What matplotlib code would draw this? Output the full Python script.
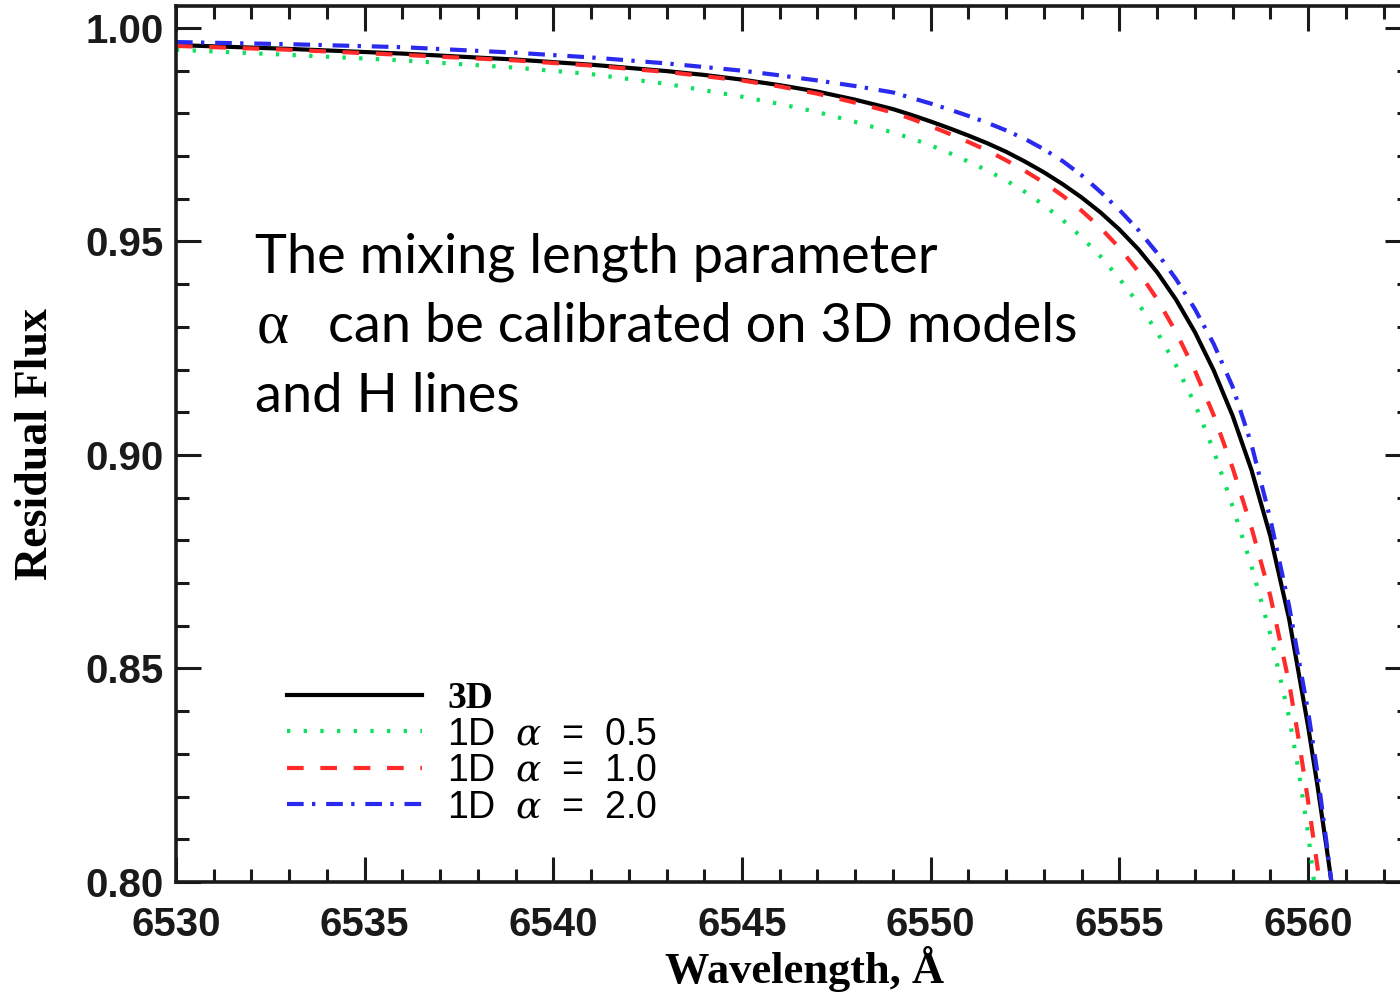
import matplotlib
matplotlib.use('Agg')
import matplotlib.pyplot as plt
from matplotlib.ticker import MultipleLocator, FormatStrFormatter

# Residual flux vs wavelength

wl_3d = [6530, 6533, 6536, 6539, 6541, 6543, 6544, 6545, 6546, 6547, 6548, 6549,
         6549.5, 6550, 6550.5, 6551, 6551.5, 6552, 6552.5, 6553, 6553.5, 6554, 6554.5,
         6555, 6555.5, 6556, 6556.5, 6557, 6557.5, 6558, 6558.5, 6559, 6559.5, 6560,
         6560.25, 6560.5, 6560.7]
flux_3d = [0.9960, 0.9951, 0.9940, 0.9926, 0.9914, 0.9899, 0.9890, 0.9879, 0.9866, 0.9851, 0.9832, 0.9810,
           0.9796, 0.9781, 0.9765, 0.9748, 0.9730, 0.9710, 0.9687, 0.9662, 0.9634, 0.9603, 0.9568,
           0.9528, 0.9482, 0.9428, 0.9364, 0.9288, 0.9198, 0.9092, 0.8965, 0.8810, 0.8615, 0.8365,
           0.8225, 0.8075, 0.7950]

wl_a05 = [6530, 6533, 6536, 6539, 6541, 6543, 6545, 6546, 6547, 6548, 6549,
          6549.5, 6550, 6550.5, 6551, 6551.5, 6552, 6552.5, 6553, 6553.5, 6554, 6554.5,
          6555, 6555.5, 6556, 6556.5, 6557, 6557.5, 6558, 6558.5, 6559, 6559.5,
          6559.75, 6560, 6560.2]
flux_a05 = [0.9949, 0.9937, 0.9924, 0.9907, 0.9892, 0.9869, 0.9839, 0.9822, 0.9803, 0.9780, 0.9755,
            0.9741, 0.9725, 0.9707, 0.9687, 0.9666, 0.9643, 0.9616, 0.9585, 0.9550, 0.9510, 0.9465,
            0.9413, 0.9355, 0.9288, 0.9210, 0.9120, 0.9010, 0.8880, 0.8740, 0.8580, 0.8385,
            0.8260, 0.8115, 0.7970]

wl_a10 = [6530, 6533, 6536, 6539, 6541, 6543, 6545, 6546, 6547, 6548, 6549,
          6549.5, 6550, 6550.5, 6551, 6551.5, 6552, 6552.5, 6553, 6553.5, 6554, 6554.5,
          6555, 6555.5, 6556, 6556.5, 6557, 6557.5, 6558, 6558.5, 6559, 6559.5,
          6559.75, 6560, 6560.25, 6560.4]
flux_a10 = [0.9958, 0.9949, 0.9937, 0.9924, 0.9912, 0.9897, 0.9877, 0.9863, 0.9846, 0.9825, 0.9802,
            0.9787, 0.9770, 0.9752, 0.9733, 0.9713, 0.9690, 0.9665, 0.9638, 0.9607, 0.9572, 0.9532,
            0.9485, 0.9430, 0.9365, 0.9288, 0.9198, 0.9093, 0.8970, 0.8830, 0.8670, 0.8465,
            0.8335, 0.8190, 0.8035, 0.7940]

wl_a20 = [6530, 6533, 6536, 6539, 6541, 6543, 6545, 6546, 6547, 6548, 6549,
          6549.5, 6550, 6550.5, 6551, 6551.5, 6552, 6552.5, 6553, 6553.5, 6554, 6554.5,
          6555, 6555.5, 6556, 6556.5, 6557, 6557.5, 6558, 6558.5, 6559, 6559.5, 6560,
          6560.25, 6560.5, 6560.7]
flux_a20 = [0.9967, 0.9962, 0.9955, 0.9942, 0.9931, 0.9917, 0.9900, 0.9889, 0.9877, 0.9864, 0.9849,
            0.9836, 0.9823, 0.9809, 0.9794, 0.9778, 0.9760, 0.9740, 0.9716, 0.9688, 0.9655, 0.9616,
            0.9574, 0.9527, 0.9473, 0.9412, 0.9342, 0.9260, 0.9160, 0.9025, 0.8850, 0.8645, 0.8400,
            0.8255, 0.8085, 0.7940]

labels = ['3D', '1D  $\\alpha$  =  0.5', '1D  $\\alpha$  =  1.0', '1D  $\\alpha$  =  2.0']

plt.rcParams['mathtext.fontset'] = 'dejavuserif'

fig = plt.figure(figsize=(14, 9.96), dpi=100)
ax = fig.add_axes([0.1257, 0.1145, 0.8814, 0.8795])

ax.plot(wl_3d, flux_3d, color='black', lw=3.0, label=labels[0])
ax.plot(wl_a05, flux_a05, color='#10e060', lw=3.0, linestyle=(0, (0.8, 3.2)), label=labels[1])
ax.plot(wl_a10, flux_a10, color='#ff2a2a', lw=3.0, linestyle=(0, (4, 4)), label=labels[2])
ax.plot(wl_a20, flux_a20, color='#2a2aee', lw=3.0, linestyle=(0, (4, 2, 0.8, 2.6)), label=labels[3])

ax.set_xlim(6530, 6562.7)
ax.set_ylim(0.80, 1.00515)

ax.xaxis.set_major_locator(MultipleLocator(5))
ax.xaxis.set_minor_locator(MultipleLocator(1))
ax.yaxis.set_major_locator(MultipleLocator(0.05))
ax.yaxis.set_minor_locator(MultipleLocator(0.01))
ax.yaxis.set_major_formatter(FormatStrFormatter('%.2f'))

ax.tick_params(which='both', direction='in', top=True, right=True, width=2.2, colors='#1a1a1a')
ax.tick_params(which='major', length=18)
ax.tick_params(which='minor', length=9.5)
ax.tick_params(axis='x', which='major', pad=17, labelsize=29)
ax.tick_params(axis='y', which='major', pad=9, labelsize=29)
for lab in ax.get_xticklabels() + ax.get_yticklabels():
    lab.set_fontfamily('Liberation Sans')
    lab.set_fontweight('bold')
    lab.set_color('#1a1a1a')

for sp in ax.spines.values():
    sp.set_linewidth(2.6)
    sp.set_color('#1a1a1a')

ax.set_xlabel('Wavelength, Å', fontsize=32, fontweight='bold', family='Liberation Serif')
ax.xaxis.set_label_coords(0.5097, -0.073)
ax.set_ylabel('Residual Flux', fontsize=33, fontweight='bold', family='Liberation Serif', labelpad=20)

leg = ax.legend(loc='upper left', bbox_to_anchor=(0.09, 0.2295), frameon=False, fontsize=27,
                handlelength=3.6, handletextpad=0.67, labelspacing=0.01, borderpad=0, borderaxespad=0)
for i, t in enumerate(leg.get_texts()):
    if i == 0:
        t.set_fontfamily('Liberation Serif')
        t.set_fontweight('bold')
    else:
        t.set_fontfamily('Liberation Sans')

# annotation
fig.text(255 / 1400, 1 - 272 / 996, 'The mixing length parameter', fontsize=39,
         family='Lato', va='baseline', ha='left')
fig.text(257 / 1400, 1 - 342 / 996, 'α', fontsize=44, family='Liberation Serif',
         va='baseline', ha='left')
fig.text(328 / 1400, 1 - 342 / 996, 'can be calibrated on 3D models', fontsize=39,
         family='Lato', va='baseline', ha='left')
fig.text(255 / 1400, 1 - 412 / 996, 'and H lines', fontsize=39,
         family='Lato', va='baseline', ha='left')

fig.savefig('out.png', dpi=100)
